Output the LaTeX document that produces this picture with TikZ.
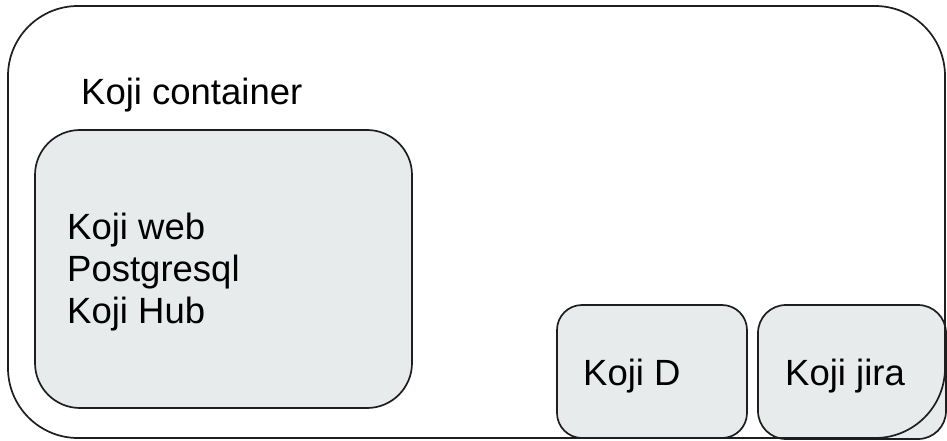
\documentclass[tikz,border=0pt]{standalone}
\usepackage{fontspec}
\setmainfont{Liberation Sans}
\definecolor{boxfill}{HTML}{E8EBEC}
\definecolor{edge}{HTML}{1E1E1E}
\begin{document}
\begin{tikzpicture}[x=1pt,y=-1pt,
  frame/.style={draw=edge,line width=1.7pt,inner sep=0pt,outer sep=0pt,anchor=north west},
  grey/.style={frame,fill=boxfill},
  lbl/.style={inner sep=0pt,anchor=base west,text=black,font=\fontsize{36.5}{42}\selectfont}]
\useasboundingbox[fill=white] (0,0) rectangle (947,441);
\node[inner sep=0pt,outer sep=0pt,anchor=north west,fill=white,rounded corners=70pt,minimum width=937pt,minimum height=432pt] (outerfill) at (8,6) {};
\node[grey,rounded corners=45pt,minimum width=377pt,minimum height=278pt] (hub) at (35,130) {};
\node[grey,rounded corners=25pt,minimum width=190pt,minimum height=133pt] (kojid) at (557,305) {};
\node[grey,rounded corners=28pt,minimum width=188pt,minimum height=134pt] (jira) at (758,305) {};
\node[frame,rounded corners=70pt,minimum width=937pt,minimum height=432pt] (outer) at (8,6) {};
\node[lbl] (title) at (81,105) {Koji container};
\node[lbl,align=left] (hubtext) at (67,323) {Koji web\\Postgresql\\Koji Hub};
\node[lbl] (dtext) at (583,385) {Koji D};
\node[lbl] (jtext) at (785,385) {Koji jira};
\end{tikzpicture}
\end{document}
